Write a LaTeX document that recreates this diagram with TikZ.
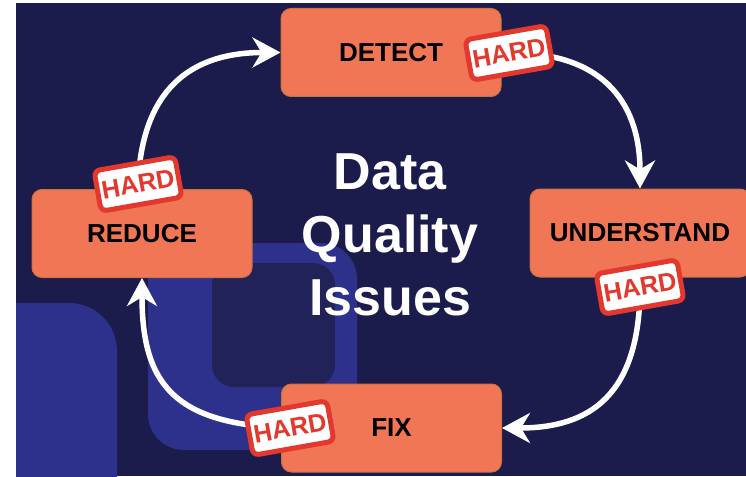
\documentclass[tikz,border=0pt]{standalone}
\usepackage{fontspec}
\setmainfont{Liberation Sans}
\usepackage{xcolor}
\usepackage{tikz}
\usetikzlibrary{arrows.meta}
\definecolor{cyclenavy}{HTML}{1B1C4B}
\definecolor{shapeblue}{HTML}{2D318C}
\definecolor{innernavy}{HTML}{212358}
\definecolor{stageorange}{HTML}{F07656}
\definecolor{stageedge}{HTML}{C9733E}
\definecolor{hardred}{HTML}{E3382D}

\begin{document}
\begin{tikzpicture}[
    x=1pt, y=-1pt,
    stage/.style={rectangle, rounded corners=10pt, draw=stageedge, fill=stageorange,
        minimum width=220pt, minimum height=88pt, line width=1pt,
        font=\fontsize{26}{30}\selectfont\bfseries, text=black},
    hardtag/.style={rectangle, rounded corners=6pt, draw=hardred, fill=white,
        minimum width=82pt, minimum height=41pt, line width=5pt, inner sep=0pt,
        rotate=10, font=\fontsize{25.5}{28}\selectfont\bfseries, text=hardred},
    flow/.style={-{Stealth[length=28pt, width=30pt, inset=9pt]}, line width=5.5pt, white},
    title/.style={align=center, text=white, inner sep=0pt,
        font=\fontsize{52}{63}\selectfont\bfseries}
]
    \useasboundingbox (0,0) rectangle (746,476);
    \clip (0,0) rectangle (746,476);

    % background + decoration
    \fill[white] (0,0) rectangle (746,476);
    \fill[cyclenavy] (16,3) rectangle (746,476);
    \begin{scope}
        \clip (16,3) rectangle (746,476);
        \fill[shapeblue, rounded corners=48pt] (-40,303) rectangle (117,540);
        \fill[shapeblue, rounded corners=36pt] (148,243) rectangle (357,450);
        \fill[innernavy, rounded corners=22pt] (212,263) rectangle (335,387);
    \end{scope}

    % centre title
    \node[title] (issues) at (390,235) {Data\\Quality\\Issues};

    % the four stages
    \node[stage] (detect) at (391,52.5) {DETECT};
    \node[stage] (understand) at (640,233) {UNDERSTAND};
    \node[stage] (fix) at (391.5,428) {FIX};
    \node[stage] (reduce) at (142,233.5) {REDUCE};

    % cycle arrows (tags are drawn on top)
    \coordinate (detectout) at (509,53);
    \coordinate (understandout) at (640,287);
    \coordinate (fixout) at (290,428);
    \coordinate (reduceout) at (138,184);
    \draw[flow] (reduceout) .. controls (142,90) and (190,52.5) .. (detect.west);
    \draw[flow] (detectout) .. controls (598,52) and (640,98) .. (understand.north);
    \draw[flow] (understandout) .. controls (640,395) and (590,428) .. (fix.east);
    \draw[flow] (fixout) .. controls (170,425) and (142,380) .. (reduce.south);

    % HARD tags
    \foreach \t in {detectout, understandout, fixout, reduceout}
        \node[hardtag] at (\t) {HARD};
\end{tikzpicture}
\end{document}
